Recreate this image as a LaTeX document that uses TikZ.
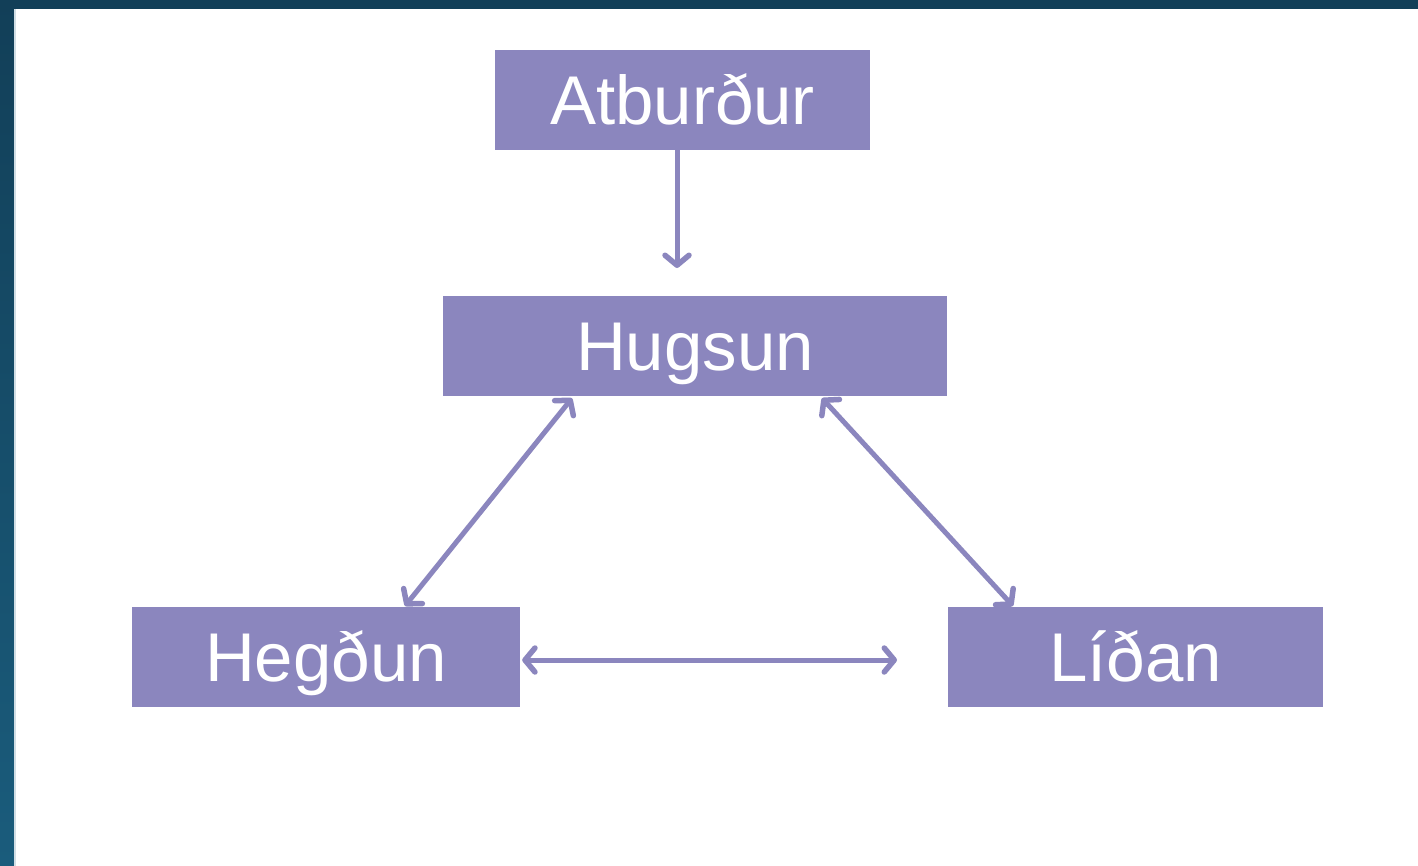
\documentclass[tikz,border=0pt]{standalone}
\usepackage{fontspec}
\setmainfont{Liberation Sans}
\usetikzlibrary{arrows.meta,shadings}
\definecolor{boxfill}{HTML}{8B86BE}
\definecolor{frametop}{HTML}{123F58}
\definecolor{framebot}{HTML}{1A5C7C}
\tikzset{
  box/.style={fill=boxfill, draw=none, text=white, minimum height=100pt, inner sep=0pt,
    text height=49pt, text depth=0pt, font=\fontsize{69}{80}\selectfont},
  tip/.tip={Straight Barb[round,length=10pt,width=24pt,line width=5.5pt]},
  link/.style={draw=boxfill, line width=5pt, tip-tip},
  onelink/.style={draw=boxfill, line width=5pt, -tip}
}
\begin{document}
\begin{tikzpicture}[x=1pt,y=-1pt]
\useasboundingbox (0,0) rectangle (1418,866);
\shade[top color=frametop, bottom color=framebot] (0,0) rectangle (1418,866);
\fill[white] (14,9) rectangle (1418,866);
\fill[white!80!framebot] (14,9) rectangle (15.5,866);
\node[box, minimum width=375pt] (atb) at (682.5,100) {Atburður};
\node[box, minimum width=504pt] (hug) at (695,346) {Hugsun};
\node[box, minimum width=388pt] (heg) at (326,656.5) {Hegðun};
\node[box, minimum width=375pt] (lid) at (1135.5,656.5) {Líðan};
\coordinate (atbend) at (677,268);
\coordinate (ligend) at (897,660);
\draw[onelink] (atb.south -| atbend) -- (atbend);
\draw[link] (hug.south -| 572,0) ++(0,2) coordinate (h1) (h1) -- (405,606) coordinate (g1);
\draw[link] (hug.south -| 822,0) ++(0,2) coordinate (h2) (h2) -- (1013,606) coordinate (l1);
\draw[link] (heg.east |- ligend) ++(2,0) coordinate (g2) (g2) -- (ligend);
\end{tikzpicture}
\end{document}
